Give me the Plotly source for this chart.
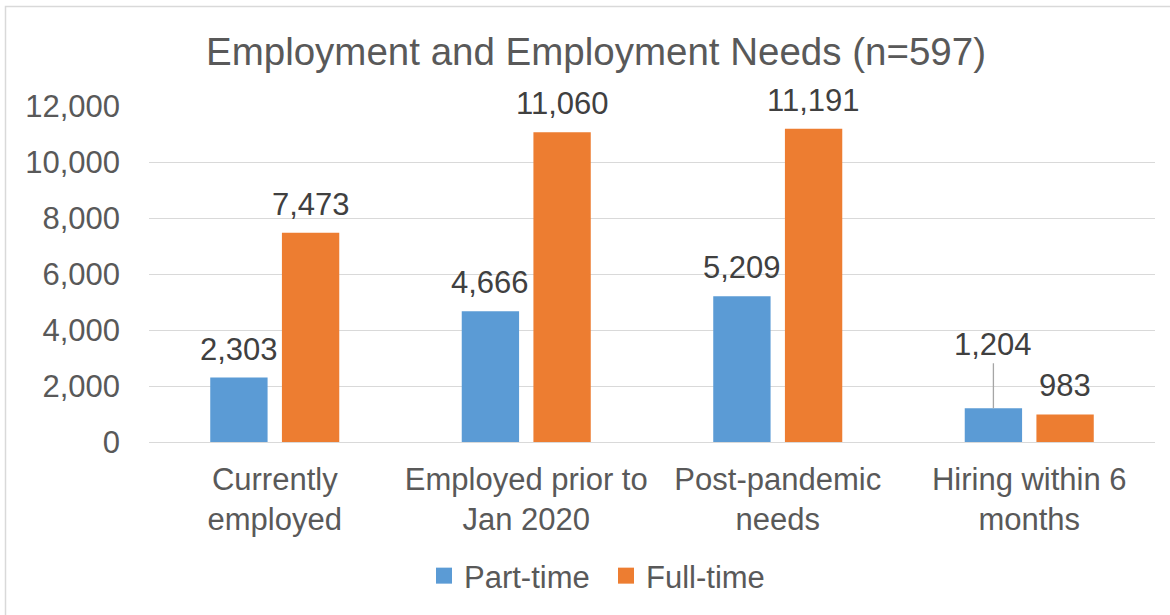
import plotly.graph_objects as go

categories = ["Currently<br>employed", "Employed prior to<br>Jan 2020",
              "Post-pandemic<br>needs", "Hiring within 6<br>months"]
part_time = [2303, 4666, 5209, 1204]
full_time = [7473, 11060, 11191, 983]
series_names = ["Part-time", "Full-time"]
colors = ["#5B9BD5", "#ED7D31"]
y_ticks = [0, 2000, 4000, 6000, 8000, 10000, 12000]

TXT = "#595959"
FONT = "Liberation Sans, Arial, sans-serif"
W, H = 1170, 615
ML, MR, MT, MB = 149, 15, 106, 173
BARGAP, GROUPGAP = 0.43, 0.2

fig = go.Figure()
for name, vals, col in zip(series_names, [part_time, full_time], colors):
    fig.add_trace(go.Bar(x=categories, y=vals, name=name, marker_color=col,
                         marker_line_width=0, showlegend=False))
    # legend swatch (larger square like the reference)
    fig.add_trace(go.Scatter(x=[None], y=[None], mode="markers", name=name,
                             marker=dict(symbol="square", size=16, color=col)))

unit_px = (W - ML - MR) / len(categories)
half_slot = (1 - BARGAP) / 4 * unit_px

annotations = []
for i, cat in enumerate(categories):
    for s, vals in enumerate([part_time, full_time]):
        v = vals[i]
        xs = -half_slot if s == 0 else half_slot
        if cat.startswith("Hiring") and s == 0:
            annotations.append(dict(x=cat, y=v, xref="x", yref="y", text=f"{v:,}",
                                    showarrow=True, arrowhead=0, arrowwidth=1.3,
                                    arrowcolor="#A6A6A6", ax=0, ay=-64, standoff=0,
                                    xshift=xs, font=dict(size=31, color="#404040", family=FONT)))
        else:
            annotations.append(dict(x=cat, y=v, xref="x", yref="y", text=f"{v:,}",
                                    showarrow=False, yanchor="bottom", xshift=xs, yshift=9,
                                    font=dict(size=31, color="#404040", family=FONT)))

fig.update_layout(
    width=W, height=H,
    margin=dict(l=ML, r=MR, t=MT, b=MB),
    paper_bgcolor="white", plot_bgcolor="white",
    barmode="group", bargap=BARGAP, bargroupgap=GROUPGAP,
    font=dict(family=FONT, size=31, color=TXT),
    title=dict(text="Employment and Employment Needs (n=597)", xref="container",
               x=596 / W, xanchor="center", yref="container", y=1 - 52 / H,
               yanchor="middle", font=dict(size=38.5, color=TXT, family=FONT)),
    xaxis=dict(showgrid=False, showline=False, ticks="", ticklabelstandoff=16,
               tickfont=dict(size=31, color=TXT)),
    yaxis=dict(range=[0, 12000], tickvals=y_ticks, tickformat=",", showgrid=True,
               gridcolor="#D9D9D9", gridwidth=1.3, zeroline=True, zerolinecolor="#D9D9D9",
               zerolinewidth=1.3, showline=False, ticks="", ticklabelstandoff=28,
               tickfont=dict(size=31, color=TXT)),
    legend=dict(orientation="h", xref="container", yref="container",
                x=424 / W, xanchor="left", y=1 - 576 / H, yanchor="middle",
                font=dict(size=31, color=TXT), itemsizing="trace",
                entrywidth=137, entrywidthmode="pixels"),
    annotations=annotations,
    shapes=[dict(type="rect", xref="paper", yref="paper",
                 x0=(5.5 - ML) / (W - ML - MR), x1=(W + 10 - ML) / (W - ML - MR),
                 y0=-(H + 10 - (H - MB)) / (H - MT - MB), y1=((H - MB) - 6.5) / (H - MT - MB),
                 line=dict(color="#D9D9D9", width=1.5), layer="below")],
)

fig.write_html("out.html", config={"displayModeBar": False},
               post_script="document.body.style.margin='0';document.body.style.overflow='hidden';")
